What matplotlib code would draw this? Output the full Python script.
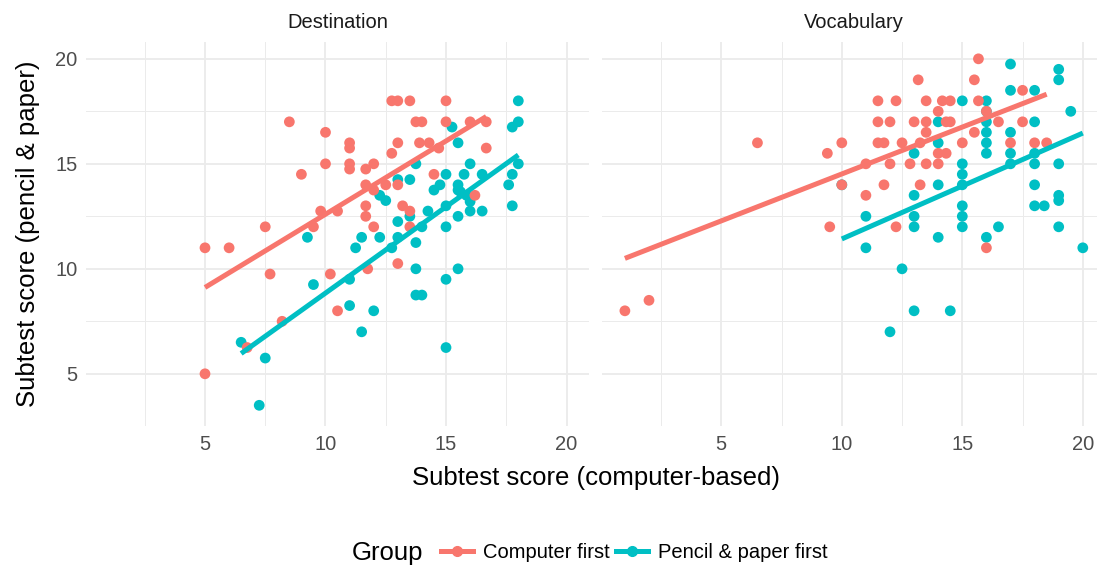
import numpy as np
import matplotlib.pyplot as plt
from matplotlib.lines import Line2D

plt.rcParams['font.family'] = ['Liberation Sans', 'DejaVu Sans']

RED = '#F8766D'
TEAL = '#00BFC4'

# Destination panel
dest_comp_x = [8.5, 10, 11, 11, 10, 11, 11, 9, 11.67, 11.67, 11.67, 9.8, 10.5, 7.5, 9.5,
               12.75, 13, 13.5, 15, 13.75, 14, 15, 16, 16.67, 13, 12.75, 13.9, 14.3, 14.7, 16.67,
               11.67, 12, 12, 12.5, 13, 14.5, 16.2, 12, 13.2, 13.5, 13.5,
               13, 11.75, 5, 6, 7.7, 10.2, 10.5, 8.2, 6.75, 5]
dest_comp_y = [17, 16.5, 16, 15.75, 15, 15, 14.75, 14.5, 14, 13, 12.5, 12.75, 12.75, 12, 12,
               18, 18, 18, 18, 17, 17, 17, 17, 17, 16, 15.5, 16, 16, 15.75, 15.75,
               14.75, 15, 13.75, 14, 14, 14.5, 13.5, 12, 13, 12.75, 12,
               10.25, 10, 11, 11, 9.75, 9.75, 8, 7.5, 6.25, 5]
dest_pp_x = [9.25, 11.5, 18, 18, 17.75, 15.25, 15.5, 13.75, 16, 18, 17.75, 17.6, 15, 15.75, 16.5,
             13, 13.5, 14.75, 14.5, 15.5, 15.5, 15.6, 15.85, 16, 16, 12.25, 12.5, 15, 14.25, 15.5,
             16.5, 17.75, 13, 13.5, 12.25, 13, 14, 15, 12.75, 13.75, 13.75, 15.5, 15, 13.75, 14,
             12, 11.5, 15, 9.5, 11, 11.25, 11, 6.5, 7.5, 7.25]
dest_pp_y = [11.5, 11.5, 18, 17, 16.75, 16.75, 16, 15, 15, 15, 14.5, 14, 14.5, 14.5, 14.5,
             14.25, 14.25, 14, 13.75, 14, 13.75, 13.67, 13.5, 13.2, 12.75, 13.5, 13.25, 13, 12.75, 12.5,
             12.75, 13, 12.25, 12.5, 11.5, 11.5, 12, 12, 11, 11.25, 10, 10, 9.5, 8.75, 8.75,
             8, 7, 6.25, 9.25, 9.5, 11, 8.25, 6.5, 5.75, 3.5]

# Vocabulary panel
voc_comp_x = [6.5, 9.4, 10, 10, 9.5, 1, 2, 15.67, 13.17, 15.5, 17.5, 11.5, 12.25, 13.5, 14.17,
              14.5, 15.67, 14, 16, 11.5, 12, 13, 13.5, 14.33, 14.5, 13.5, 16.5, 17.5, 15.5, 11.5,
              11.75, 12.5, 13.25, 14, 14.33, 15, 17, 18, 18.5, 11, 12, 12.83, 13.5, 14, 11.75,
              13.25, 11, 12.25, 16]
voc_comp_y = [16, 15.5, 16, 14, 12, 8, 8.5, 20, 19, 19, 18.5, 18, 18, 18, 18,
              18, 18, 17.5, 17.5, 17, 17, 17, 17, 17, 17, 16.5, 17, 17, 16.5, 16,
              16, 16, 16, 15.5, 15.5, 16, 16, 16, 16, 15, 15, 15, 15, 15, 14,
              14, 13.5, 12, 11]
voc_pp_x = [17, 19, 19, 17, 18, 15, 16, 16, 19.5, 14, 16, 16, 16, 16, 17, 18, 14, 13, 17, 18,
            18, 17, 15, 15, 19, 14, 15, 18, 19, 19, 13, 15, 15, 15, 18, 18.4, 11, 13, 13, 16.5,
            19, 11, 14, 16, 20, 12.5, 13, 14.5, 12, 10]
voc_pp_y = [19.75, 19.5, 19, 18.5, 18.5, 18, 18, 17.5, 17.5, 17, 17, 16.5, 16, 15.5, 16.5, 17, 16, 15.5, 15.5, 15.5,
            15, 15, 15, 14.5, 15, 14, 14, 14, 13.5, 13.25, 13.5, 13, 12.5, 12, 13, 13, 12.5, 12.5, 12, 12,
            12, 11, 11.5, 11.5, 11, 10, 8, 8, 7, 14]

panels = [
    ('Destination', dest_comp_x, dest_comp_y, dest_pp_x, dest_pp_y),
    ('Vocabulary', voc_comp_x, voc_comp_y, voc_pp_x, voc_pp_y),
]

W, H = 1097, 569
fig = plt.figure(figsize=(W / 100, H / 100), dpi=100)

x_lo, x_hi = 0.05, 20.95
y_lo, y_hi = 2.675, 20.825
pw = 503.7 / W
ph = 384.8 / H
lefts = [85.7 / W, 602.0 / W]
bottom = 1 - 426.3 / H

for i, (name, cx, cy, px, py) in enumerate(panels):
    ax = fig.add_axes([lefts[i], bottom, pw, ph])
    ax.set_xlim(x_lo, x_hi)
    ax.set_ylim(y_lo, y_hi)
    ax.set_xticks([5, 10, 15, 20])
    ax.set_yticks([5, 10, 15, 20])
    ax.set_xticks([2.5, 7.5, 12.5, 17.5], minor=True)
    ax.set_yticks([2.5, 7.5, 12.5, 17.5], minor=True)
    ax.grid(which='major', color='#EBEBEB', lw=1.3)
    ax.grid(which='minor', color='#EBEBEB', lw=0.7)
    ax.set_axisbelow(True)
    for s in ax.spines.values():
        s.set_visible(False)
    ax.tick_params(which='both', length=0, labelsize=14.5, labelcolor='#4D4D4D', pad=6)
    if i == 1:
        ax.set_yticklabels([])
    for xs, ys, col, z in [(px, py, TEAL, 3), (cx, cy, RED, 3.2)]:
        xs = np.array(xs, float)
        ys = np.array(ys, float)
        ax.scatter(xs, ys, s=60, color=col, edgecolors='none', zorder=z)
        b, a = np.polyfit(xs, ys, 1)
        xx = np.array([xs.min(), xs.max()])
        ax.plot(xx, a + b * xx, color=col, lw=3.6, zorder=4, solid_capstyle='butt')
    fig.text(lefts[i] + pw / 2, 1 - 22 / H, name, ha='center', va='center',
             fontsize=14.5, color='#1A1A1A')

fig.text(28 / W, 1 - 234 / H, 'Subtest score (pencil & paper)', rotation=90,
         ha='center', va='center', fontsize=18.5)
fig.text(596 / W, 1 - 478 / H, 'Subtest score (computer-based)',
         ha='center', va='center', fontsize=18.5)

fig.text(352 / W, 1 - 553 / H, 'Group', ha='left', va='center', fontsize=18.5)
handles = [Line2D([], [], color=RED, lw=3.6, marker='o', markersize=7),
           Line2D([], [], color=TEAL, lw=3.6, marker='o', markersize=7)]
fig.legend(handles, ['Computer first', 'Pencil & paper first'], loc='center',
           bbox_to_anchor=(634 / W, 1 - 553 / H), ncol=2, frameon=False,
           fontsize=14.5, handlelength=1.6, handletextpad=0.5, columnspacing=0.3)

fig.savefig('out.png', dpi=100)
